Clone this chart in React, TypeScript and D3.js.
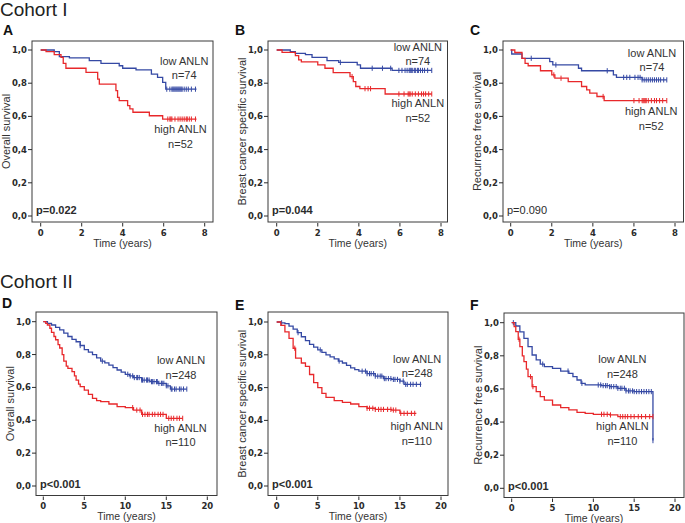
import * as d3 from 'd3';
import React from 'react';

type Pt = [number, number];

// ---- Cohort I (A: overall, B: breast cancer specific, C: recurrence free) ----
const aLowSteps: Pt[] = [[0, 1], [0.66, 0.99], [0.91, 0.96], [1.4, 0.952], [2.37, 0.936], [2.94, 0.92], [3.83, 0.905], [4.0, 0.89], [4.65, 0.88], [5.4, 0.855], [5.7, 0.835], [5.95, 0.805], [6.1, 0.764]];
const aLowCensor = [6.15, 6.3, 6.4, 6.45, 6.5, 6.55, 6.6, 6.65, 6.7, 6.75, 6.8, 6.85, 6.9, 7.0, 7.1, 7.2, 7.35, 7.55];
const aHighSteps: Pt[] = [[0, 1], [0.26, 0.99], [0.66, 0.972], [0.99, 0.956], [1.1, 0.92], [1.23, 0.89], [2.21, 0.865], [2.78, 0.825], [2.86, 0.795], [3.67, 0.755], [3.75, 0.715], [3.83, 0.695], [4.24, 0.665], [4.35, 0.645], [4.5, 0.625], [5.3, 0.604], [5.95, 0.584]];
const aHighCensor = [6.2, 6.3, 6.35, 6.4, 6.55, 6.7, 6.8, 6.9, 7.0, 7.1, 7.15, 7.25, 7.35, 7.55];

const bLowSteps: Pt[] = [[0, 1], [0.66, 0.99], [0.91, 0.98], [1.4, 0.972], [1.72, 0.956], [2.45, 0.936], [3.02, 0.925], [3.92, 0.91], [4.08, 0.89], [5.62, 0.877]];
const bLowCensor = [3.1, 4.65, 5.15, 5.55, 5.95, 6.1, 6.25, 6.35, 6.45, 6.5, 6.55, 6.6, 6.7, 6.75, 6.85, 6.9, 7.0, 7.1, 7.2, 7.35, 7.55];
const bHighSteps: Pt[] = [[0, 1], [0.26, 0.986], [0.91, 0.966], [1.07, 0.94], [1.2, 0.928], [2.0, 0.91], [2.35, 0.89], [2.75, 0.864], [3.57, 0.84], [3.73, 0.81], [3.85, 0.78], [4.05, 0.767], [5.28, 0.735]];
const bHighCensor = [3.67, 4.3, 4.45, 4.57, 5.95, 6.2, 6.4, 6.45, 6.5, 6.6, 6.75, 6.9, 7.05, 7.15, 7.25, 7.4, 7.55];

const cLowSteps: Pt[] = [[0, 1], [0.05, 0.976], [0.55, 0.95], [1.9, 0.93], [2.05, 0.91], [3.3, 0.89], [3.45, 0.875], [5.0, 0.85], [5.15, 0.835], [6.4, 0.82]];
const cLowCensor = [1.0, 2.2, 4.7, 5.5, 5.65, 5.8, 6.05, 6.2, 6.3, 6.4, 6.5, 6.6, 6.7, 6.8, 6.9, 7.0, 7.1, 7.2, 7.3, 7.45, 7.6];
const cHighSteps: Pt[] = [[0, 1], [0.2, 0.985], [0.55, 0.95], [0.7, 0.92], [0.85, 0.905], [1.45, 0.875], [2.0, 0.85], [2.15, 0.83], [2.8, 0.81], [3.45, 0.78], [3.7, 0.76], [3.85, 0.74], [4.2, 0.72], [4.55, 0.695]];
const cHighCensor = [2.1, 2.45, 4.5, 6.0, 6.25, 6.4, 6.45, 6.5, 6.55, 6.6, 6.7, 6.85, 7.0, 7.1, 7.25, 7.4, 7.6];

// ---- Cohort II (D, E, F) ----
const dLowSteps: Pt[] = [[0, 1], [0.5, 0.99], [1, 0.98], [1.5, 0.965], [2, 0.95], [2.5, 0.93], [3, 0.91], [3.5, 0.893], [4, 0.878], [4.5, 0.855], [5, 0.83], [5.5, 0.815], [6, 0.8], [6.5, 0.78], [7, 0.76], [7.5, 0.75], [8, 0.736], [8.5, 0.72], [9, 0.706], [9.5, 0.693], [10, 0.68], [10.5, 0.67], [11, 0.66], [12, 0.645], [13, 0.635], [14, 0.625], [15, 0.61], [15.5, 0.59]];
const dLowCensor = [4.5, 7.2, 10.3, 10.6, 10.9, 11.1, 11.4, 11.5, 11.7, 12.0, 12.1, 12.3, 12.6, 12.7, 12.9, 13.2, 13.3, 13.5, 13.8, 13.9, 14.1, 14.4, 14.5, 14.7, 15.0, 15.2, 15.6, 15.7, 16.0, 16.2, 16.6, 16.8, 17.1, 17.5];
const dHighSteps: Pt[] = [[0, 1], [0.3, 0.99], [0.5, 0.98], [0.8, 0.96], [1, 0.935], [1.3, 0.91], [1.5, 0.89], [1.8, 0.86], [2, 0.84], [2.3, 0.8], [2.5, 0.76], [2.8, 0.73], [3, 0.716], [3.5, 0.696], [3.8, 0.67], [4, 0.645], [4.3, 0.62], [4.5, 0.605], [5, 0.584], [5.5, 0.558], [6, 0.533], [6.5, 0.52], [7, 0.513], [8, 0.499], [9, 0.483], [10, 0.477], [11, 0.462], [12, 0.436], [15, 0.412]];
const dHighCensor = [10.9, 11.4, 11.8, 12.1, 12.4, 12.7, 12.9, 13.3, 13.6, 14.0, 14.3, 14.6, 15.3, 15.6, 15.9, 16.3, 16.6, 17.0];

const eLowSteps: Pt[] = [[0, 1], [0.5, 0.995], [1, 0.99], [1.5, 0.975], [2, 0.957], [2.5, 0.935], [3, 0.91], [3.5, 0.887], [4, 0.864], [4.5, 0.847], [5, 0.83], [5.5, 0.815], [6, 0.8], [6.5, 0.787], [7, 0.775], [7.5, 0.762], [8, 0.75], [8.5, 0.735], [9, 0.72], [9.5, 0.71], [10, 0.7], [11, 0.685], [12, 0.67], [13, 0.655], [14, 0.65], [15, 0.64], [15.5, 0.62]];
const eLowCensor = [0.6, 2.6, 5.3, 7.6, 10.4, 10.8, 11.0, 11.3, 11.5, 11.8, 12.0, 12.3, 12.6, 12.8, 13.1, 13.3, 13.6, 13.9, 14.2, 14.4, 14.7, 15.0, 15.4, 15.7, 15.9, 16.3, 16.6, 17.0, 17.5];
const eHighSteps: Pt[] = [[0, 1], [0.5, 0.98], [1, 0.94], [1.5, 0.9], [2, 0.84], [2.3, 0.78], [3, 0.75], [3.5, 0.73], [4, 0.68], [4.5, 0.63], [5, 0.6], [5.5, 0.565], [6, 0.54], [7, 0.52], [8, 0.51], [9, 0.5], [10, 0.484], [11, 0.474], [12, 0.467], [14, 0.463], [15, 0.443]];
const eHighCensor = [2.2, 11.0, 11.3, 11.7, 12.0, 12.4, 12.7, 13.0, 13.5, 13.9, 14.2, 14.5, 15.1, 15.5, 15.9, 16.4, 16.8];

const fLowSteps: Pt[] = [[0, 1], [0.5, 0.98], [1, 0.945], [1.5, 0.905], [2, 0.855], [2.5, 0.805], [3, 0.775], [3.5, 0.75], [4, 0.735], [5, 0.724], [6, 0.708], [7, 0.694], [7.5, 0.674], [8, 0.654], [8.5, 0.634], [9, 0.624], [11, 0.62], [12, 0.614], [13, 0.604], [14, 0.588], [15, 0.584], [17.3, 0.288]];
const fLowCensor = [0.2, 3.8, 6.9, 8.6, 10.6, 10.9, 11.2, 11.5, 11.7, 12.0, 12.2, 12.5, 12.8, 13.0, 13.3, 13.5, 13.8, 14.0, 14.3, 14.5, 14.8, 15.0, 15.3, 15.6, 15.9, 16.2, 16.5, 16.8, 17.1, 17.3];
const fHighSteps: Pt[] = [[0, 1], [0.3, 0.976], [0.5, 0.946], [0.8, 0.9], [1, 0.855], [1.3, 0.8], [1.5, 0.765], [1.8, 0.72], [2, 0.674], [2.5, 0.614], [3, 0.584], [3.5, 0.553], [4, 0.533], [5, 0.503], [6, 0.487], [7, 0.473], [8, 0.459], [9, 0.453], [10, 0.447], [12, 0.443], [13, 0.433]];
const fHighCensor = [0.9, 2.3, 2.6, 11.0, 11.3, 11.7, 12.1, 13.3, 13.6, 13.9, 14.2, 14.6, 15.0, 15.5, 15.9, 16.4, 16.9, 17.3];

const yTicks = [0, 0.2, 0.4, 0.6, 0.8, 1.0];
const xTicksI = [0, 2, 4, 6, 8];
const xTicksII = [0, 5, 10, 15, 20];

const cohortTitles = ['Cohort I', 'Cohort II'];
const lowLabel = 'low ANLN';
const highLabel = 'high ANLN';

const BLUE = '#3549a4';
const RED = '#e8282b';
const INK = '#2b2b2b';

interface Series { steps: Pt[]; censor: number[]; end: number }
interface Panel {
  letter: string;
  yTitle: string;
  p: string;
  pBold: boolean;
  xTicks: number[];
  box: { l: number; r: number; t: number; b: number };
  xr: [number, number];
  yr: [number, number];
  low: Series;
  high: Series;
  nLow: number;
  nHigh: number;
  lowAt: Pt; // label centre (time, survival) for the low group
  highAt: Pt;
  letterPos: Pt;
}

const panels: Panel[] = [
  {
    letter: 'A', yTitle: 'Overall survival', p: 'p=0.022', pBold: true, xTicks: xTicksI,
    box: { l: 32, r: 213, t: 41, b: 222 }, xr: [40.7, 204.7], yr: [216, 50],
    low: { steps: aLowSteps, censor: aLowCensor, end: 7.6 }, high: { steps: aHighSteps, censor: aHighCensor, end: 7.6 },
    nLow: 74, nHigh: 52, lowAt: [7.0, 0.91], highAt: [6.82, 0.5], letterPos: [3, 35],
  },
  {
    letter: 'B', yTitle: 'Breast cancer specific survival', p: 'p=0.044', pBold: true, xTicks: xTicksI,
    box: { l: 268, r: 447.5, t: 41, b: 222 }, xr: [276.7, 441], yr: [216, 50],
    low: { steps: bLowSteps, censor: bLowCensor, end: 7.55 }, high: { steps: bHighSteps, censor: bHighCensor, end: 7.55 },
    nLow: 74, nHigh: 52, lowAt: [6.87, 0.996], highAt: [6.87, 0.655], letterPos: [235, 35],
  },
  {
    letter: 'C', yTitle: 'Recurrence free survival', p: 'p=0.090', pBold: false, xTicks: xTicksI,
    box: { l: 503, r: 683.5, t: 41, b: 222 }, xr: [510.7, 675], yr: [216, 50],
    low: { steps: cLowSteps, censor: cLowCensor, end: 7.6 }, high: { steps: cHighSteps, censor: cHighCensor, end: 7.6 },
    nLow: 74, nHigh: 52, lowAt: [6.88, 0.96], highAt: [6.84, 0.608], letterPos: [470, 35],
  },
  {
    letter: 'D', yTitle: 'Overall survival', p: 'p<0.001', pBold: true, xTicks: xTicksII,
    box: { l: 36, r: 217, t: 312, b: 495.5 }, xr: [43.3, 207.3], yr: [486, 321.7],
    low: { steps: dLowSteps, censor: dLowCensor, end: 17.5 }, high: { steps: dHighSteps, censor: dHighCensor, end: 17.0 },
    nLow: 248, nHigh: 110, lowAt: [16.8, 0.742], highAt: [16.73, 0.33], letterPos: [2, 308],
  },
  {
    letter: 'E', yTitle: 'Breast cancer specific survival', p: 'p<0.001', pBold: true, xTicks: xTicksII,
    box: { l: 268, r: 448, t: 312, b: 495.5 }, xr: [276.7, 441], yr: [486, 322],
    low: { steps: eLowSteps, censor: eLowCensor, end: 17.6 }, high: { steps: eHighSteps, censor: eHighCensor, end: 17.0 },
    nLow: 248, nHigh: 110, lowAt: [17.1, 0.753], highAt: [17.05, 0.34], letterPos: [235, 310],
  },
  {
    letter: 'F', yTitle: 'Recurrence free survival', p: 'p<0.001', pBold: true, xTicks: xTicksII,
    box: { l: 504, r: 684, t: 313, b: 497.5 }, xr: [511.7, 675], yr: [488.3, 322.7],
    low: { steps: fLowSteps, censor: fLowCensor, end: 17.3 }, high: { steps: fHighSteps, censor: fHighCensor, end: 17.3 },
    nLow: 248, nHigh: 110, lowAt: [13.56, 0.755], highAt: [13.56, 0.352], letterPos: [470, 310],
  },
];

const survivalAt = (steps: Pt[], t: number) => {
  let s = steps[0][1];
  for (const [st, sv] of steps) {
    if (st <= t) s = sv;
  }
  return s;
};

const fmtY = (v: number) => v.toFixed(1).replace('.', ',');

const Curve = ({ series, x, y, color }: { series: Series; x: d3.ScaleLinear<number, number>; y: d3.ScaleLinear<number, number>; color: string }) => {
  const last = series.steps[series.steps.length - 1];
  const pts: Pt[] = [...series.steps, [series.end, last[1]]];
  const line = d3
    .line<Pt>()
    .x((d) => x(d[0]))
    .y((d) => y(d[1]))
    .curve(d3.curveStepAfter);
  return (
    <g>
      <path d={line(pts) ?? ''} fill="none" stroke={color} strokeWidth={1.3} />
      {series.censor.map((t, i) => {
        const cy = y(survivalAt(series.steps, t));
        return <line key={i} x1={x(t)} x2={x(t)} y1={cy - 2.6} y2={cy + 2.6} stroke={color} strokeWidth={1} />;
      })}
    </g>
  );
};

const PanelView = ({ p }: { p: Panel }) => {
  const dom = p.xTicks[p.xTicks.length - 1];
  const x = d3.scaleLinear().domain([0, dom]).range(p.xr);
  const y = d3.scaleLinear().domain([0, 1]).range(p.yr);
  const { box } = p;
  const midY = (box.t + box.b) / 2;
  const annFont = { fontFamily: 'Liberation Sans, Arial, sans-serif', fontSize: 11, fill: '#333' };
  return (
    <g>
      <text x={p.letterPos[0]} y={p.letterPos[1]} fontFamily="Liberation Sans, Arial, sans-serif" fontWeight="bold" fontSize={14} fill="#111">
        {p.letter}
      </text>
      <rect x={box.l} y={box.t} width={box.r - box.l} height={box.b - box.t} fill="none" stroke="#3a3a3a" strokeWidth={1} />
      {/* y axis */}
      {yTicks.map((v) => (
        <g key={v}>
          <line x1={box.l - 4} x2={box.l} y1={y(v)} y2={y(v)} stroke={INK} strokeWidth={1} />
          <text x={box.l - 5} y={y(v)} dy="0.35em" textAnchor="end" fontFamily="DejaVu Sans, sans-serif" fontWeight="bold" fontSize={8.5} fill={INK}>
            {fmtY(v)}
          </text>
        </g>
      ))}
      <text
        transform={`translate(${box.l - 22.5},${midY}) rotate(-90)`}
        textAnchor="middle"
        {...annFont}
      >
        {p.yTitle}
      </text>
      {/* x axis */}
      {p.xTicks.map((v) => (
        <g key={v}>
          <line x1={x(v)} x2={x(v)} y1={box.b + 1} y2={box.b + 4.5} stroke={INK} strokeWidth={1} />
          <text x={x(v)} y={box.b + 13.5} textAnchor="middle" fontFamily="DejaVu Sans, sans-serif" fontWeight="bold" fontSize={8.5} fill={INK}>
            {v}
          </text>
        </g>
      ))}
      <text x={(box.l + box.r) / 2} y={box.b + 24.5} textAnchor="middle" {...annFont} fontSize={10.5}>
        Time (years)
      </text>
      <Curve series={p.low} x={x} y={y} color={BLUE} />
      <Curve series={p.high} x={x} y={y} color={RED} />
      {/* group labels */}
      <text x={x(p.lowAt[0])} y={y(p.lowAt[1])} textAnchor="middle" {...annFont}>{lowLabel}</text>
      <text x={x(p.lowAt[0])} y={y(p.lowAt[1]) + 14.5} textAnchor="middle" {...annFont}>{`n=${p.nLow}`}</text>
      <text x={x(p.highAt[0])} y={y(p.highAt[1])} textAnchor="middle" {...annFont}>{highLabel}</text>
      <text x={x(p.highAt[0])} y={y(p.highAt[1]) + 14.5} textAnchor="middle" {...annFont}>{`n=${p.nHigh}`}</text>
      <text x={box.l + 4} y={box.b - 8} fontFamily="Liberation Sans, Arial, sans-serif" fontSize={11} fontWeight={p.pBold ? 'bold' : 'normal'} fill={INK}>
        {p.p}
      </text>
    </g>
  );
};

const App = () => {
  return (
    <div style={{ position: 'absolute', left: 0, top: 0 }}>
      <svg width={685} height={523} style={{ display: 'block', background: '#fff' }}>
        <text x={0} y={16} fontFamily="Liberation Sans, Arial, sans-serif" fontSize={19} fill="#222">{cohortTitles[0]}</text>
        <text x={0} y={288} fontFamily="Liberation Sans, Arial, sans-serif" fontSize={19} fill="#222">{cohortTitles[1]}</text>
        {panels.map((p) => (
          <PanelView key={p.letter} p={p} />
        ))}
      </svg>
    </div>
  );
};

export default App;
